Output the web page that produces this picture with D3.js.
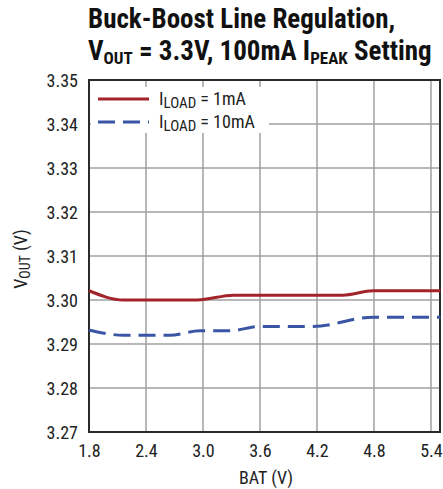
<!DOCTYPE html>
<html><head><meta charset="utf-8">
<script src="https://cdn.jsdelivr.net/npm/d3@7"></script>
<style>body{margin:0;background:#fff}svg{display:block}text{font-family:"Liberation Sans Narrow","Roboto Condensed","Liberation Sans",Arial,sans-serif}</style>
</head><body>
<script>
const xTicks = [1.8, 2.4, 3.0, 3.6, 4.2, 4.8, 5.4];
const yTicks = [3.27, 3.28, 3.29, 3.30, 3.31, 3.32, 3.33, 3.34, 3.35];
const batRed = [1.8, 2.16, 2.94, 3.32, 4.47, 4.79, 5.5];
const vRed = [3.3021, 3.3000, 3.3000, 3.3011, 3.3011, 3.3021, 3.3021];
const batBlue = [1.8, 2.16, 2.65, 2.97, 3.28, 3.6, 4.16, 4.79, 5.5];
const vBlue = [3.2932, 3.2920, 3.2920, 3.2930, 3.2930, 3.2940, 3.2940, 3.2961, 3.2961];

const W = 443, H = 489;
const m = {l: 89, r: 440, t: 80, b: 432};
const svg = d3.select("body").append("svg").attr("width", W).attr("height", H);
const x = d3.scaleLinear().domain([1.8, 5.495]).range([m.l, m.r]);
const y = d3.scaleLinear().domain([3.27, 3.35]).range([m.b, m.t]);

// grid
svg.append("g").selectAll("line").data(xTicks.slice(1)).join("line")
  .attr("x1", d => x(d)).attr("x2", d => x(d)).attr("y1", m.t).attr("y2", m.b)
  .attr("stroke", "#a0a0a0").attr("stroke-width", 1.5);
svg.append("g").selectAll("line").data(yTicks.slice(1, -1)).join("line")
  .attr("x1", m.l).attr("x2", m.r).attr("y1", d => y(d)).attr("y2", d => y(d))
  .attr("stroke", "#a0a0a0").attr("stroke-width", 1.5);

// legend background
svg.append("rect").attr("x", m.l + 2).attr("y", 87).attr("width", 178).attr("height", 46).attr("fill", "#fff");

// border
svg.append("rect").attr("x", m.l).attr("y", m.t).attr("width", m.r - m.l).attr("height", m.b - m.t)
  .attr("fill", "none").attr("stroke", "#2a2a2a").attr("stroke-width", 2);

// axes labels
const xAxis = d3.axisBottom(x).tickValues(xTicks).tickFormat(d3.format(".1f")).tickSize(0).tickPadding(0);
const gx = svg.append("g").attr("transform", `translate(0,${m.b})`).call(xAxis);
gx.select(".domain").remove();
gx.selectAll("text").attr("font-size", 18).attr("fill", "#222").attr("dy", null).attr("y", 25).style("font-family", null);
const yAxis = d3.axisLeft(y).tickValues(yTicks).tickFormat(d3.format(".2f")).tickSize(0).tickPadding(11);
const gy = svg.append("g").attr("transform", `translate(${m.l},0)`).call(yAxis);
gy.select(".domain").remove();
gy.selectAll("text").attr("font-size", 18).attr("fill", "#222").attr("dy", null).attr("y", 6).style("font-family", null);

// lines
const line = d3.line().curve(d3.curveMonotoneX);
svg.append("path").attr("d", line(batRed.map((b, i) => [x(b), y(vRed[i])])))
  .attr("fill", "none").attr("stroke", "#a3232a").attr("stroke-width", 3);
svg.append("path").attr("d", line(batBlue.map((b, i) => [x(b), y(vBlue[i])])))
  .attr("fill", "none").attr("stroke", "#3a55a6").attr("stroke-width", 3).attr("stroke-dasharray", "17,8");

// legend
svg.append("line").attr("x1", 98).attr("x2", 149).attr("y1", 99).attr("y2", 99).attr("stroke", "#a3232a").attr("stroke-width", 3);
svg.append("line").attr("x1", 98).attr("x2", 149).attr("y1", 122).attr("y2", 122).attr("stroke", "#3a55a6").attr("stroke-width", 3).attr("stroke-dasharray", "17,8");
const leg = [["1mA", 105], ["10mA", 128]];
leg.forEach(([v, yy]) => {
  const t = svg.append("text").attr("x", 159).attr("y", yy).attr("font-size", 18).attr("fill", "#222");
  t.append("tspan").text("I");
  t.append("tspan").text("LOAD").attr("font-size", 15).attr("dy", 3);
  t.append("tspan").text(` = ${v}`).attr("dy", -3);
});

// axis titles
svg.append("text").attr("x", 266).attr("y", 484).attr("text-anchor", "middle").attr("font-size", 18).attr("fill", "#222").text("BAT (V)");
const yt = svg.append("text").attr("transform", "translate(27,259) rotate(-90)").attr("text-anchor", "middle").attr("font-size", 18).attr("fill", "#222");
yt.append("tspan").text("V");
yt.append("tspan").text("OUT").attr("font-size", 14).attr("dy", 3);
yt.append("tspan").text(" (V)").attr("dy", -3);

// title
const t1 = svg.append("text").attr("x", 88).attr("y", 28).attr("font-size", 27).attr("font-weight", "bold").attr("fill", "#111").text("Buck-Boost Line Regulation,");
const t2 = svg.append("text").attr("x", 88).attr("y", 60).attr("font-size", 27).attr("font-weight", "bold").attr("fill", "#111");
t2.append("tspan").text("V");
t2.append("tspan").text("OUT").attr("font-size", 17).attr("dy", 4);
t2.append("tspan").text(" = 3.3V, 100mA I").attr("dy", -4);
t2.append("tspan").text("PEAK").attr("font-size", 17).attr("dy", 4);
t2.append("tspan").text(" Setting").attr("dy", -4);
</script>
</body></html>
